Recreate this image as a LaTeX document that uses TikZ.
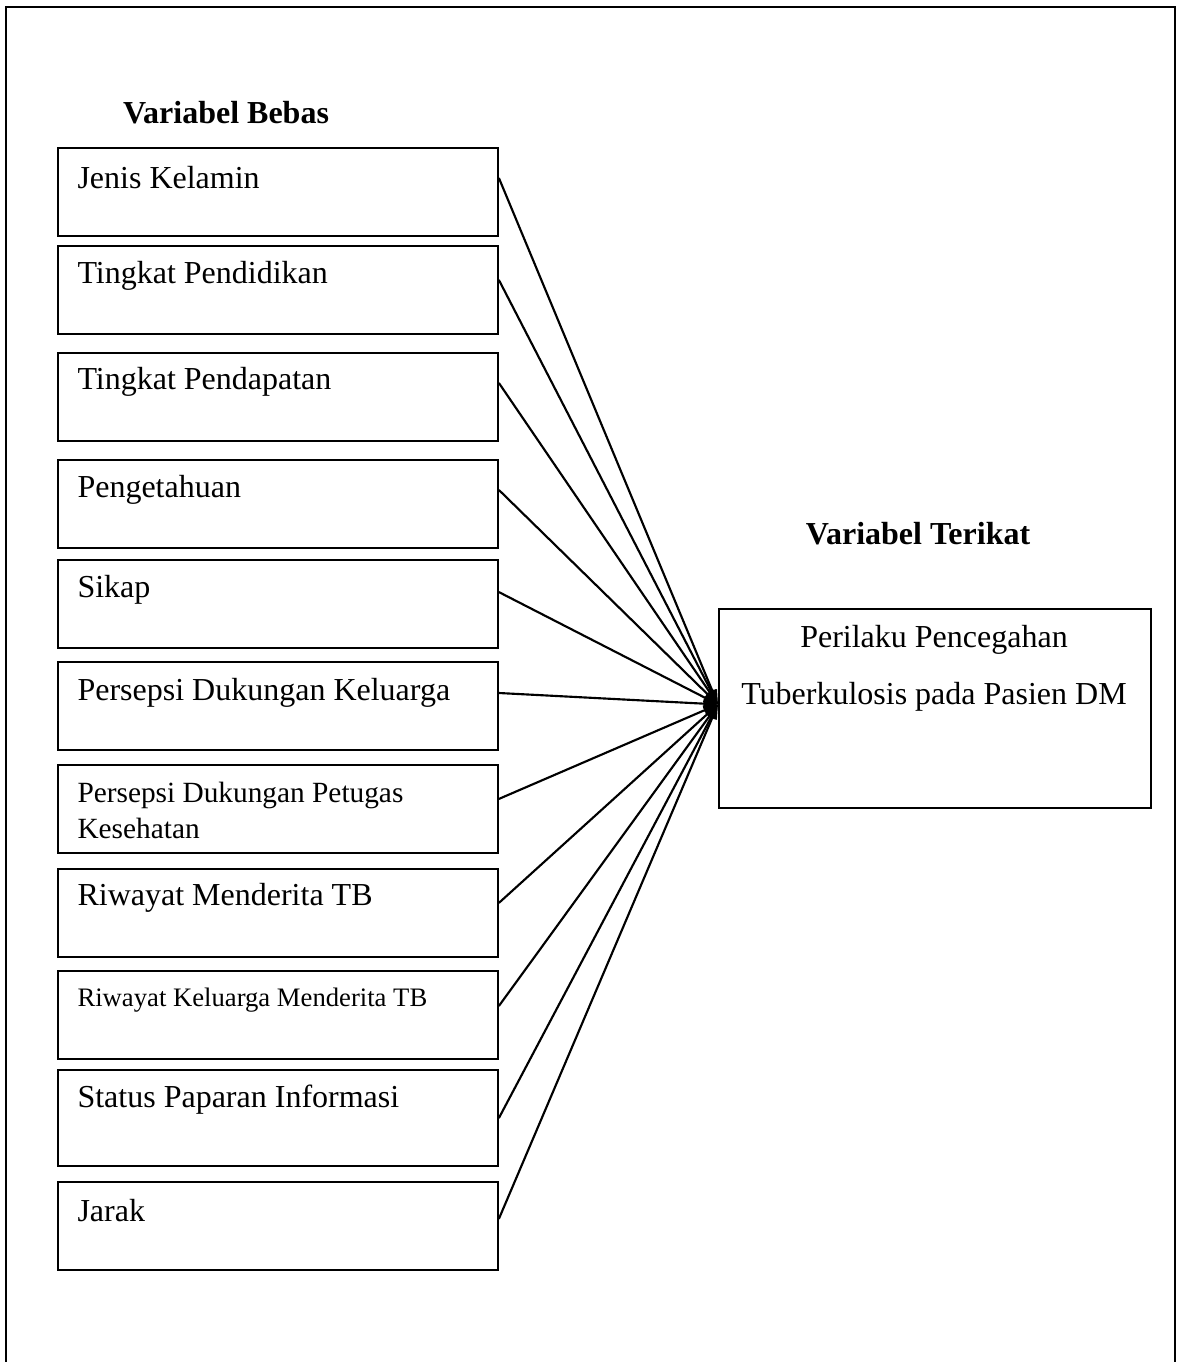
\documentclass[tikz,border=0pt]{standalone}
\usepackage{fontspec}
\setmainfont{Liberation Serif}
\usetikzlibrary{arrows.meta}

\begin{document}
\begin{tikzpicture}[x=0.375pt,y=-0.375pt,
  varbox/.style={draw=black,line width=0.7pt,inner sep=0pt,anchor=north west,
    minimum width=165pt,minimum height=33pt},
  varlbl/.style={anchor=west,inner sep=0pt,font=\fontsize{12}{14}\selectfont},
  link/.style={draw=black,line width=0.8pt,-{Triangle[length=5.5pt,width=3.5pt]}}]
\useasboundingbox (0,0) rectangle (1181,1362);
% outer frame, its bottom edge runs off the page
\draw [black,line width=0.7pt] (6,1400) -- (6,7) -- (1175,7) -- (1175,1400);
\node [anchor=base,font=\bfseries\fontsize{12}{14}\selectfont] (hbebas) at (226,124) {Variabel Bebas};
\node [anchor=base,font=\bfseries\fontsize{12}{14}\selectfont] (hterikat) at (918,544) {Variabel Terikat};
% independent variables
\node [varbox] (b1) at (57,147) {};
\node [varlbl] (t1) at (77,178) {Jenis Kelamin};
\node [varbox] (b2) at (57,245) {};
\node [varlbl] (t2) at (77,276) {Tingkat Pendidikan};
\node [varbox] (b3) at (57,352) {};
\node [varlbl] (t3) at (77,382) {Tingkat Pendapatan};
\node [varbox] (b4) at (57,459) {};
\node [varlbl] (t4) at (77,490) {Pengetahuan};
\node [varbox] (b5) at (57,559) {};
\node [varlbl] (t5) at (77,590) {Sikap};
\node [varbox] (b6) at (57,661) {};
\node [varlbl] (t6) at (77,693) {Persepsi Dukungan Keluarga};
\node [varbox] (b7) at (57,764) {};
\node [varlbl,font=\fontsize{11}{13.5}\selectfont,align=left,anchor=north west] (t7) at (77,782)
  {Persepsi Dukungan Petugas\\Kesehatan};
\node [varbox] (b8) at (57,868) {};
\node [varlbl] (t8) at (77,898) {Riwayat Menderita TB};
\node [varbox] (b9) at (57,970) {};
\node [varlbl,font=\fontsize{10}{12}\selectfont] (t9) at (77,1000) {Riwayat Keluarga Menderita TB};
\node [varbox,minimum height=36pt] (b10) at (57,1069) {};
\node [varlbl] (t10) at (77,1100) {Status Paparan Informasi};
\node [varbox] (b11) at (57,1181) {};
\node [varlbl] (t11) at (77,1211) {Jarak};
% dependent variable
\node [varbox,minimum width=162pt,minimum height=74.6pt] (out) at (718,608) {};
\node [anchor=center,font=\fontsize{12}{14}\selectfont] (o1) at (934,640) {Perilaku Pencegahan};
\node [anchor=center,font=\fontsize{12}{14}\selectfont] (o2) at (934,697) {Tuberkulosis pada Pasien DM};
\coordinate (tip) at ([yshift=1.5pt]out.west);
% connectors
\draw [link] ([yshift=-11.6pt]b1.north east) -- (tip);
\draw [link] ([yshift=-13.1pt]b2.north east) -- (tip);
\draw [link] ([yshift=-11.6pt]b3.north east) -- (tip);
\draw [link] ([yshift=-11.6pt]b4.north east) -- (tip);
\draw [link] ([yshift=-12.4pt]b5.north east) -- (tip);
\draw [link] ([yshift=-12pt]b6.north east) -- (tip);
\draw [link] ([yshift=-13.1pt]b7.north east) -- (tip);
\draw [link] ([yshift=-13.1pt]b8.north east) -- (tip);
\draw [link] ([yshift=-13.5pt]b9.north east) -- (tip);
\draw [link] ([yshift=-18.4pt]b10.north east) -- (tip);
\draw [link] ([yshift=-14.2pt]b11.north east) -- (tip);
\end{tikzpicture}
\end{document}
